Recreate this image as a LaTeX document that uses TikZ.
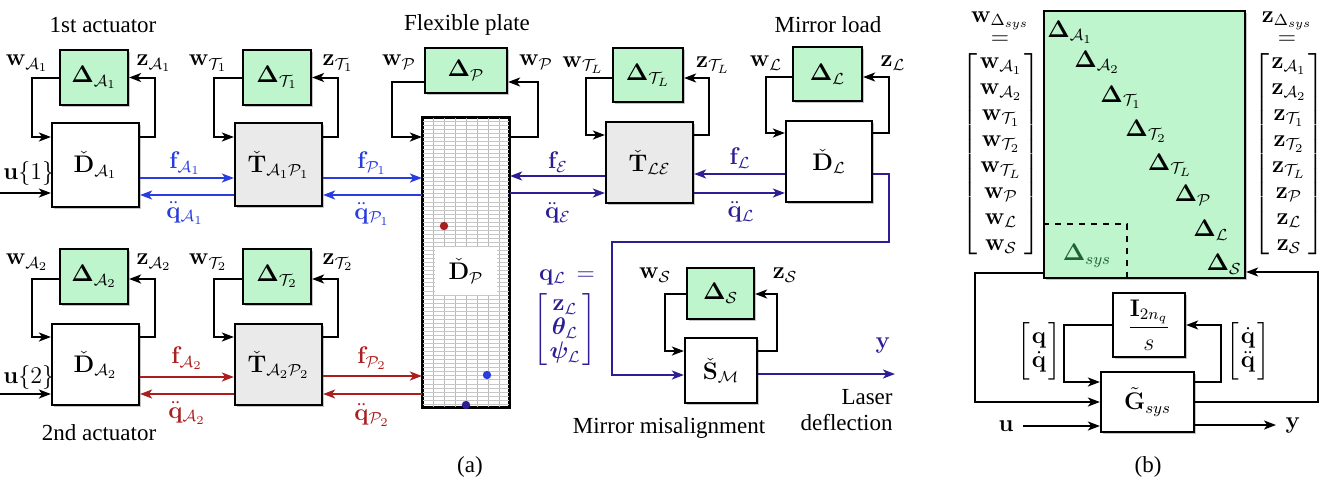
\documentclass[tikz,border=0pt]{standalone}
\usepackage{amsmath,bm}
\usepackage[no-math]{fontspec}
\setmainfont{Liberation Serif}
\usetikzlibrary{arrows.meta,shadows,calc}
\definecolor{dgreen}{RGB}{190,245,205}
\definecolor{tgray}{RGB}{234,234,234}
\definecolor{cblue}{RGB}{40,60,225}
\definecolor{cind}{RGB}{45,30,150}
\definecolor{cred}{RGB}{170,30,30}
\definecolor{sysgreen}{RGB}{30,100,50}
\setlength{\arraycolsep}{1pt}
\begin{document}
\begin{tikzpicture}[x=0.5pt,y=-0.5pt,font=\fontsize{11.5}{14}\selectfont,
  box/.style={draw,line width=1.1pt,inner sep=0pt,drop shadow={shadow xshift=1.2pt,shadow yshift=-1.2pt,fill=black!45}},
  dbox/.style={box,fill=dgreen},
  tbox/.style={box,fill=tgray},
  wbox/.style={box,fill=white},
  arr/.style={line width=1pt,-{Stealth[length=6pt,width=4.5pt,inset=1.6pt]}},
  lbl/.style={inner sep=1pt},
  vgrid/.style={draw=black!28,line width=0.4pt},
  hgrid/.style={draw=black!22,line width=0.3pt}]
\useasboundingbox (0,0) rectangle (1322,488);

% ---------------- panel (a) boxes ----------------
\node[dbox,minimum width=34pt,minimum height=27.5pt] (dA1) at (94,77.5) {$\mathbf{\Delta}_{\mathcal{A}_1}$};
\node[wbox,minimum width=43.5pt,minimum height=42pt] (DA1) at (95.5,165) {$\check{\mathbf{D}}_{\mathcal{A}_1}$};
\node[dbox,minimum width=34pt,minimum height=27.5pt] (dT1) at (277,77.5) {$\mathbf{\Delta}_{\mathcal{T}_1}$};
\node[tbox,minimum width=43.5pt,minimum height=41.5pt] (TA1) at (278.5,164.5) {$\check{\mathbf{T}}_{\mathcal{A}_1\mathcal{P}_1}$};
\node[dbox,minimum width=41pt,minimum height=22.5pt] (dP) at (466,70.5) {$\mathbf{\Delta}_{\mathcal{P}}$};
\node[wbox,minimum width=43pt,minimum height=144.5pt] (plate) at (466,262.5) {};
\node[dbox,minimum width=35pt,minimum height=27pt] (dTL) at (648,75) {$\mathbf{\Delta}_{\mathcal{T}_L}$};
\node[tbox,minimum width=43.5pt,minimum height=40.5pt] (TLE) at (649.5,162.5) {$\check{\mathbf{T}}_{\mathcal{L}\mathcal{E}}$};
\node[dbox,minimum width=34.5pt,minimum height=27pt] (dL) at (827.5,74) {$\mathbf{\Delta}_{\mathcal{L}}$};
\node[wbox,minimum width=43pt,minimum height=40.5pt] (DL) at (829,161.5) {$\check{\mathbf{D}}_{\mathcal{L}}$};
\node[dbox,minimum width=34pt,minimum height=27.5pt] (dA2) at (94,276.5) {$\mathbf{\Delta}_{\mathcal{A}_2}$};
\node[wbox,minimum width=43.5pt,minimum height=40.5pt] (DA2) at (95.5,364.5) {$\check{\mathbf{D}}_{\mathcal{A}_2}$};
\node[dbox,minimum width=34pt,minimum height=27.5pt] (dT2) at (277,276.5) {$\mathbf{\Delta}_{\mathcal{T}_2}$};
\node[tbox,minimum width=43.5pt,minimum height=40.5pt] (TA2) at (278.5,364.5) {$\check{\mathbf{T}}_{\mathcal{A}_2\mathcal{P}_2}$};
\node[dbox,minimum width=33.5pt,minimum height=25.5pt] (dS) at (720.5,293.5) {$\mathbf{\Delta}_{\mathcal{S}}$};
\node[wbox,minimum width=36pt,minimum height=32.5pt] (SM) at (721,370.5) {$\check{\mathbf{S}}_{\mathcal{M}}$};

% plate grid
\foreach \k in {1,...,7}
  \draw[vgrid] ($(plate.north west)!\k/8!(plate.north east)$) -- ($(plate.south west)!\k/8!(plate.south east)$);
\foreach \k in {1,...,71}
  \draw[hgrid] ($(plate.north west)!\k/72!(plate.south west)$) -- ($(plate.north east)!\k/72!(plate.south east)$);
\draw[line width=1.1pt] (plate.south west) rectangle (plate.north east);
\node[fill=white,minimum width=31pt,minimum height=24pt,inner sep=0pt] (DPl) at (466,271) {$\check{\mathbf{D}}_{\mathcal{P}}$};
\fill[cred] (444,226) circle (2.1pt);
\fill[cblue] (487,375) circle (2.1pt);
\fill[cind] (466,405) circle (2.1pt);

% feedback loops
\draw[arr] (dA1.west) -- ++(-27,0) |- (DA1.west |- 0,137);
\draw[arr] (DA1.east |- 0,137) -- ++(15,0) |- (dA1.east);
\draw[arr] (dT1.west) -- ++(-28,0) |- (TA1.west |- 0,137);
\draw[arr] (TA1.east |- 0,137) -- ++(15,0) |- (dT1.east);
\draw[arr] (dP.west |- 0,82) -- ++(-32,0) |- (plate.west |- 0,137);
\draw[arr] (plate.east |- 0,137) -- ++(28,0) |- (dP.east |- 0,82);
\draw[arr] (dTL.west |- 0,78) -- ++(-26,0) |- (TLE.west |- 0,135);
\draw[arr] (TLE.east |- 0,135) -- ++(15,0) |- (dTL.east |- 0,78);
\draw[arr] (dL.west |- 0,77) -- ++(-26,0) |- (DL.west |- 0,133);
\draw[arr] (DL.east |- 0,133) -- ++(16,0) |- (dL.east |- 0,77);
\draw[arr] (dA2.west |- 0,279) -- ++(-27,0) |- (DA2.west |- 0,337);
\draw[arr] (DA2.east |- 0,337) -- ++(15,0) |- (dA2.east |- 0,279);
\draw[arr] (dT2.west |- 0,279) -- ++(-28,0) |- (TA2.west |- 0,337);
\draw[arr] (TA2.east |- 0,337) -- ++(15,0) |- (dT2.east |- 0,279);
\draw[arr] (dS.west |- 0,294) -- ++(-21,0) |- (SM.west |- 0,351);
\draw[arr] (SM.east |- 0,351) -- ++(19,0) |- (dS.east |- 0,294);

% loop labels
\node[lbl] at (27,63) {$\mathbf{w}_{\mathcal{A}_1}$};
\node[lbl] at (154,63) {$\mathbf{z}_{\mathcal{A}_1}$};
\node[lbl] at (208,63) {$\mathbf{w}_{\mathcal{T}_1}$};
\node[lbl] at (338,63) {$\mathbf{z}_{\mathcal{T}_1}$};
\node[lbl] at (399,62) {$\mathbf{w}_{\mathcal{P}}$};
\node[lbl] at (536,62) {$\mathbf{w}_{\mathcal{P}}$};
\node[lbl] at (583,65) {$\mathbf{w}_{\mathcal{T}_L}$};
\node[lbl] at (713,65) {$\mathbf{z}_{\mathcal{T}_L}$};
\node[lbl] at (766,63) {$\mathbf{w}_{\mathcal{L}}$};
\node[lbl] at (893,63) {$\mathbf{z}_{\mathcal{L}}$};
\node[lbl] at (27,262) {$\mathbf{w}_{\mathcal{A}_2}$};
\node[lbl] at (154,262) {$\mathbf{z}_{\mathcal{A}_2}$};
\node[lbl] at (208,262) {$\mathbf{w}_{\mathcal{T}_2}$};
\node[lbl] at (338,262) {$\mathbf{z}_{\mathcal{T}_2}$};
\node[lbl] at (655,275) {$\mathbf{w}_{\mathcal{S}}$};
\node[lbl] at (785,275) {$\mathbf{z}_{\mathcal{S}}$};

% inputs u
\coordinate (u1) at (0,193);
\coordinate (u2) at (0,394);
\draw[arr] (u1) -- (DA1.west |- u1);
\draw[arr] (u2) -- (DA2.west |- u2);
\node[lbl,anchor=west] at (1,173) {$\mathbf{u}\{1\}$};
\node[lbl,anchor=west] at (1,377) {$\mathbf{u}\{2\}$};

% row 1 blue
\draw[arr,cblue] (DA1.east |- 0,178) -- (TA1.west |- 0,178);
\draw[arr,cblue] (TA1.west |- 0,195) -- (DA1.east |- 0,195);
\draw[arr,cblue] (TA1.east |- 0,178) -- (plate.west |- 0,178);
\draw[arr,cblue] (plate.west |- 0,195) -- (TA1.east |- 0,195);
\node[lbl,text=cblue] at (185,163) {$\mathbf{f}_{\mathcal{A}_1}$};
\node[lbl,text=cblue] at (185,213) {$\ddot{\mathbf{q}}_{\mathcal{A}_1}$};
\node[lbl,text=cblue] at (372,163) {$\mathbf{f}_{\mathcal{P}_1}$};
\node[lbl,text=cblue] at (372,214) {$\ddot{\mathbf{q}}_{\mathcal{P}_1}$};

% row 1 right (indigo)
\draw[arr,cind] (TLE.west |- 0,176) -- (plate.east |- 0,176);
\draw[arr,cind] (plate.east |- 0,193) -- (TLE.west |- 0,193);
\draw[arr,cind] (DL.west |- 0,174) -- (TLE.east |- 0,174);
\draw[arr,cind] (TLE.east |- 0,193) -- (DL.west |- 0,193);
\node[lbl,text=cind] at (558,162) {$\mathbf{f}_{\mathcal{E}}$};
\node[lbl,text=cind] at (558,213) {$\ddot{\mathbf{q}}_{\mathcal{E}}$};
\node[lbl,text=cind] at (740,158) {$\mathbf{f}_{\mathcal{L}}$};
\node[lbl,text=cind] at (741,212) {$\ddot{\mathbf{q}}_{\mathcal{L}}$};

% row 2 red
\draw[arr,cred] (DA2.east |- 0,377) -- (TA2.west |- 0,377);
\draw[arr,cred] (TA2.west |- 0,394) -- (DA2.east |- 0,394);
\draw[arr,cred] (TA2.east |- 0,376) -- (plate.west |- 0,376);
\draw[arr,cred] (plate.west |- 0,394) -- (TA2.east |- 0,394);
\node[lbl,text=cred] at (187,358) {$\mathbf{f}_{\mathcal{A}_2}$};
\node[lbl,text=cred] at (187,413) {$\ddot{\mathbf{q}}_{\mathcal{A}_2}$};
\node[lbl,text=cred] at (372,358) {$\mathbf{f}_{\mathcal{P}_2}$};
\node[lbl,text=cred] at (372,415) {$\ddot{\mathbf{q}}_{\mathcal{P}_2}$};

% D_L output to mirror
\coordinate (c1) at (889,242);
\coordinate (c2) at (612,242);
\draw[arr,cind] (DL.east |- 0,174) -| (c1) -- (c2) |- (SM.west |- 0,375);
\coordinate (yout) at (895,374);
\draw[arr,cind] (SM.east |- yout) -- (yout);
\node[lbl,text=cind] at (883,345) {$\mathbf{y}$};

% q_L vector
\node[lbl,text=cind] at (567,277) {$\mathbf{q}_{\mathcal{L}}\,=$};
\node[lbl,text=cind,font=\fontsize{11.5}{12}\selectfont] at (565,330) {$\left[\begin{array}{c}\mathbf{z}_{\mathcal{L}}\\ \bm{\theta}_{\mathcal{L}}\\ \bm{\psi}_{\mathcal{L}}\end{array}\right]$};

% titles
\node[lbl] at (103,25) {1st actuator};
\node[lbl] at (99,433) {2nd actuator};
\node[lbl] at (467,25) {Flexible plate};
\node[lbl] at (828,25) {Mirror load};
\node[lbl] at (669,428) {Mirror misalignment};
\node[lbl,align=right,anchor=east,font=\fontsize{11.5}{13}\selectfont] at (895,410) {Laser\\deflection};
\node[lbl] at (470,467) {(a)};

% ---------------- panel (b) ----------------
\node[dbox,minimum width=100.5pt,minimum height=133.5pt] (big) at (1144.5,144.5) {};
\node[lbl] at (1070,32) {$\mathbf{\Delta}_{\mathcal{A}_1}$};
\node[lbl] at (1097,62) {$\mathbf{\Delta}_{\mathcal{A}_2}$};
\node[lbl] at (1121,97) {$\mathbf{\Delta}_{\mathcal{T}_1}$};
\node[lbl] at (1146,131) {$\mathbf{\Delta}_{\mathcal{T}_2}$};
\node[lbl] at (1170,165) {$\mathbf{\Delta}_{\mathcal{T}_L}$};
\node[lbl] at (1193,195) {$\mathbf{\Delta}_{\mathcal{P}}$};
\node[lbl] at (1211,230) {$\mathbf{\Delta}_{\mathcal{L}}$};
\node[lbl] at (1224,264) {$\mathbf{\Delta}_{\mathcal{S}}$};
\coordinate (dc) at (1127,224);
\draw[dashed,line width=0.6pt] (big.west |- dc) -- (dc) -- (dc |- big.south);
\node[lbl,text=sysgreen] at (1087,256) {$\mathbf{\Delta}_{sys}$};

\node[lbl] at (1000,21) {$\mathbf{w}_{\Delta_{sys}}$};
\node[lbl] at (1000,40) {$=$};
\node[lbl,font=\fontsize{11.5}{13}\selectfont] at (1001,154) {$\left[\begin{array}{c}\mathbf{w}_{\mathcal{A}_1}\\ \mathbf{w}_{\mathcal{A}_2}\\ \mathbf{w}_{\mathcal{T}_1}\\ \mathbf{w}_{\mathcal{T}_2}\\ \mathbf{w}_{\mathcal{T}_L}\\ \mathbf{w}_{\mathcal{P}}\\ \mathbf{w}_{\mathcal{L}}\\ \mathbf{w}_{\mathcal{S}}\end{array}\right]$};
\node[lbl] at (1287,21) {$\mathbf{z}_{\Delta_{sys}}$};
\node[lbl] at (1287,40) {$=$};
\node[lbl,font=\fontsize{11.5}{13}\selectfont] at (1289,154) {$\left[\begin{array}{c}\mathbf{z}_{\mathcal{A}_1}\\ \mathbf{z}_{\mathcal{A}_2}\\ \mathbf{z}_{\mathcal{T}_1}\\ \mathbf{z}_{\mathcal{T}_2}\\ \mathbf{z}_{\mathcal{T}_L}\\ \mathbf{z}_{\mathcal{P}}\\ \mathbf{z}_{\mathcal{L}}\\ \mathbf{z}_{\mathcal{S}}\end{array}\right]$};

\node[wbox,minimum width=36pt,minimum height=32pt] (integ) at (1149,325) {$\dfrac{\mathbf{I}_{2n_q}}{s}$};
\node[wbox,minimum width=46.5pt,minimum height=30pt] (G) at (1147.5,402) {$\tilde{\mathbf{G}}_{sys}$};

\draw[arr] (integ.west) -- ++(-48,0) |- (G.west |- 0,382);
\draw[arr] (G.east |- 0,382) -- ++(26,0) |- (integ.east);
\draw[arr] (G.east) -- ++(123,0) |- (big.east |- 0,272);
\draw[arr] (big.west |- 0,273) -- ++(-68,0) |- (G.west);
\node[lbl,font=\fontsize{11.5}{12}\selectfont] at (1039,351) {$\left[\begin{array}{c}\mathbf{q}\\ \dot{\mathbf{q}}\end{array}\right]$};
\node[lbl,font=\fontsize{11.5}{12}\selectfont] at (1248,351) {$\left[\begin{array}{c}\dot{\mathbf{q}}\\ \ddot{\mathbf{q}}\end{array}\right]$};

\node[lbl] (ub) at (1006,426) {$\mathbf{u}$};
\coordinate (uin) at (1023,426);
\draw[arr] (uin) -- (G.west |- uin);
\node[lbl] (yb) at (1293,425) {$\mathbf{y}$};
\coordinate (yend) at (1276,425);
\draw[arr] (G.east |- yend) -- (yend);
\node[lbl] at (1148,467) {(b)};
\end{tikzpicture}
\end{document}
